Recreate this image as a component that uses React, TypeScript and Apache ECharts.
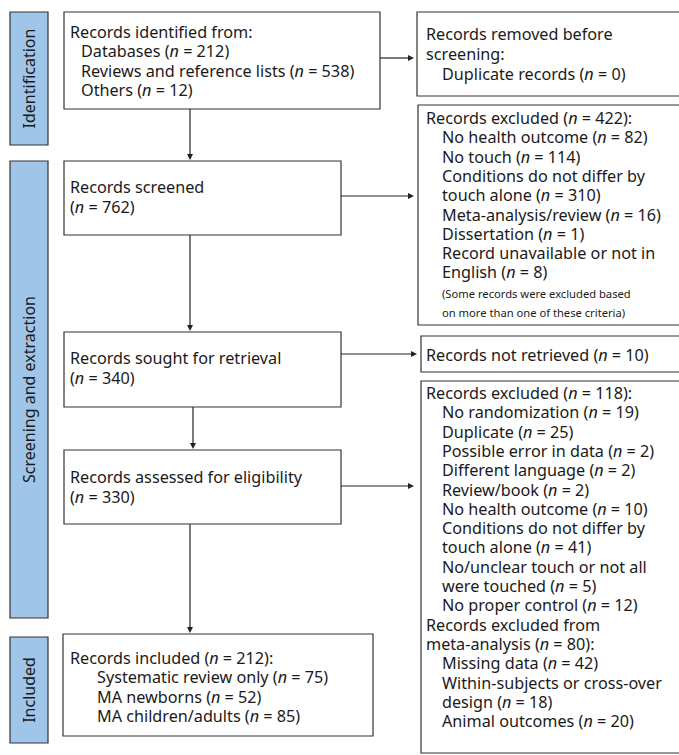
import { useEffect, useRef } from "react";
import * as echarts from "echarts";

// stage labels on the left
const stages = ["Identification", "Screening and extraction", "Included"];

// main column
const identified = [
  "Records identified from:",
  "  Databases (n = 212)",
  "  Reviews and reference lists (n = 538)",
  "  Others (n = 12)",
];
const screened = ["Records screened", "(n = 762)"];
const sought = ["Records sought for retrieval", "(n = 340)"];
const assessed = ["Records assessed for eligibility", "(n = 330)"];
const included = [
  "Records included (n = 212):",
  "    Systematic review only (n = 75)",
  "    MA newborns (n = 52)",
  "    MA children/adults (n = 85)",
];

// side column
const removed = ["Records removed before", "screening:", "  Duplicate records (n = 0)"];
const excluded1 = [
  "Records excluded (n = 422):",
  "  No health outcome (n = 82)",
  "  No touch (n = 114)",
  "  Conditions do not differ by",
  "  touch alone (n = 310)",
  "  Meta-analysis/review (n = 16)",
  "  Dissertation (n = 1)",
  "  Record unavailable or not in",
  "  English (n = 8)",
];
const excluded1Note = [
  "  (Some records were excluded based",
  "  on more than one of these criteria)",
];
const notRetrieved = ["Records not retrieved (n = 10)"];
const excluded2 = [
  "Records excluded (n = 118):",
  "  No randomization (n = 19)",
  "  Duplicate (n = 25)",
  "  Possible error in data (n = 2)",
  "  Different language (n = 2)",
  "  Review/book (n = 2)",
  "  No health outcome (n = 10)",
  "  Conditions do not differ by",
  "  touch alone (n = 41)",
  "  No/unclear touch or not all",
  "  were touched (n = 5)",
  "  No proper control (n = 12)",
  "Records excluded from",
  "meta-analysis (n = 80):",
  "  Missing data (n = 42)",
  "  Within-subjects or cross-over",
  "  design (n = 18)",
  "  Animal outcomes (n = 20)",
];

const FONT = "Noto Sans";
const INK = "#1a1a1a";

function rich(line: string) {
  const indent = line.length - line.trimStart().length;
  const body = line.trimStart().replace(/\(n =/g, "({i|n} =");
  return { indent, text: body };
}

function textLines(lines: string[], x: number, y0: number, step: number, size: number, indentPx: number) {
  return lines.map((l, i) => {
    const r = rich(l);
    return {
      type: "text",
      x: x + (r.indent / 2) * indentPx,
      y: y0 + i * step,
      style: {
        text: r.text,
        fill: INK,
        font: `${size}px "${FONT}"`,
        lineHeight: size + 1,
        verticalAlign: "middle",
        rich: {
          i: { fontStyle: "italic", fontSize: size, fontFamily: FONT, fill: INK, lineHeight: size + 1 },
        },
      },
    };
  });
}

function box(x: number, y: number, w: number, h: number) {
  return {
    type: "rect",
    shape: { x, y, width: w, height: h },
    style: { fill: "#fff", stroke: "#333", lineWidth: 1.2 },
  };
}

function arrowDown(x: number, y1: number, y2: number) {
  return [
    { type: "line", shape: { x1: x, y1, x2: x, y2: y2 - 5 }, style: { stroke: "#222", lineWidth: 1.2 } },
    { type: "polygon", shape: { points: [[x - 3, y2 - 6], [x + 3, y2 - 6], [x, y2]] }, style: { fill: "#222" } },
  ];
}

function arrowRight(x1: number, x2: number, y: number) {
  return [
    { type: "line", shape: { x1, y1: y, x2: x2 - 5, y2: y }, style: { stroke: "#222", lineWidth: 1.2 } },
    { type: "polygon", shape: { points: [[x2 - 6, y - 3], [x2 - 6, y + 3], [x2, y]] }, style: { fill: "#222" } },
  ];
}

function stage(label: string, y1: number, y2: number) {
  return [
    {
      type: "rect",
      shape: { x: 10, y: y1, width: 38, height: y2 - y1 },
      style: { fill: "#9fc5e8", stroke: "#333", lineWidth: 1.2 },
    },
    {
      type: "text",
      x: 29,
      y: (y1 + y2) / 2,
      rotation: Math.PI / 2,
      style: {
        text: label,
        fill: INK,
        font: `16px "${FONT}"`,
        align: "center",
        verticalAlign: "middle",
      },
    },
  ];
}

export default function App() {
  const ref = useRef<HTMLDivElement | null>(null);

  useEffect(() => {
    document.body.style.margin = "0";
    if (!ref.current) return;
    const chart = echarts.init(ref.current, null, { renderer: "svg" });
    const S = 16.2;
    const L = 19.3;
    const elements: any[] = [
      ...stage(stages[0], 12, 145),
      ...stage(stages[1], 161, 618),
      ...stage(stages[2], 637, 743),

      box(64, 12, 316, 97),
      ...textLines(identified, 70, 32, L, S, 11),
      box(64, 161, 277, 74),
      ...textLines(screened, 70, 187, 20, S, 11),
      box(64, 332, 277, 75),
      ...textLines(sought, 70, 358, 20, S, 11),
      box(64, 450, 277, 74),
      ...textLines(assessed, 70, 477, 20, S, 11),
      box(63, 634, 310, 102),
      ...textLines(included, 70, 658, L, S, 13.5),

      box(417, 12, 270, 84),
      ...textLines(removed, 426, 34, 20, S, 16),
      box(418, 105, 270, 220),
      ...textLines(excluded1, 426, 118, L, S, 16),
      ...textLines(excluded1Note, 426, 293, L, 11.2, 16),
      box(421, 336, 270, 36),
      ...textLines(notRetrieved, 426, 355, 20, S, 16),
      box(421, 381, 270, 372),
      ...textLines(excluded2, 426, 393, L, S, 16),

      ...arrowDown(190, 109, 160),
      ...arrowDown(190, 235, 331),
      ...arrowDown(193, 407, 449),
      ...arrowDown(190, 524, 633),
      ...arrowRight(380, 414, 58),
      ...arrowRight(341, 414, 196),
      ...arrowRight(341, 417, 354),
      ...arrowRight(341, 414, 486),
    ];
    chart.setOption({ animation: false, graphic: { elements } });
    return () => chart.dispose();
  }, []);

  return <div ref={ref} style={{ width: 679, height: 755, background: "#fff" }} />;
}
